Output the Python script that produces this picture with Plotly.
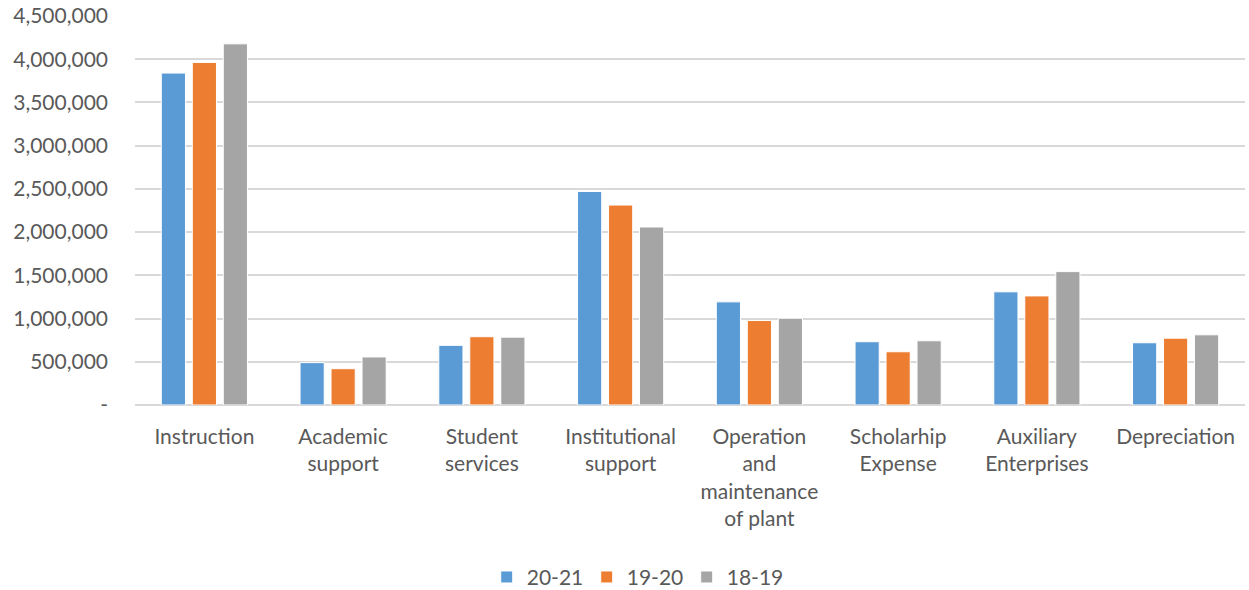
import plotly.graph_objects as go

categories = ["Instruction", "Academic<br>support", "Student<br>services", "Institutional<br>support",
              "Operation<br>and<br>maintenance<br>of plant", "Scholarhip<br>Expense",
              "Auxiliary<br>Enterprises", "Depreciation"]
series_names = ["20-21", "19-20", "18-19"]
v_20_21 = [3840000, 490000, 690000, 2470000, 1193000, 732000, 1309000, 720000]
v_19_20 = [3963000, 420000, 790000, 2313000, 977000, 616000, 1262000, 773000]
v_18_19 = [4178000, 556000, 785000, 2059000, 1004000, 743000, 1543000, 812000]
colors = ["#5B9BD5", "#ED7D31", "#A5A5A5"]
tick_vals = [0, 500000, 1000000, 1500000, 2000000, 2500000, 3000000, 3500000, 4000000, 4500000]
tick_text = ["-", "500,000", "1,000,000", "1,500,000", "2,000,000", "2,500,000",
             "3,000,000", "3,500,000", "4,000,000", "4,500,000"]

fig = go.Figure()
for name, vals, col in zip(series_names, [v_20_21, v_19_20, v_18_19], colors):
    fig.add_trace(go.Bar(x=categories, y=vals, name=name,
                         marker=dict(color=col, line=dict(color="white", width=1))))

font_family = "Lato, 'Open Sans', sans-serif"
fig.update_layout(
    width=1249, height=590,
    margin=dict(l=135, r=4, t=16, b=185, autoexpand=False),
    paper_bgcolor="white", plot_bgcolor="white",
    barmode="group", bargap=0.33, bargroupgap=0.22,
    font=dict(family=font_family, size=21, color="#595959"),
    showlegend=True,
    legend=dict(orientation="h", x=0.452, xanchor="center", y=-0.443, yanchor="middle",
                font=dict(size=21, color="#595959"), itemwidth=30, traceorder="normal",
                entrywidth=55, entrywidthmode="pixels"),
    xaxis=dict(showgrid=False, showline=False, ticks="", tickfont=dict(size=21, color="#595959"),
               tickangle=0, automargin=False, ticklabelstandoff=17),
    yaxis=dict(range=[0, 4500000], tickvals=tick_vals, ticktext=tick_text,
               showgrid=True, gridcolor="#D9D9D9", gridwidth=1.5,
               zeroline=True, zerolinecolor="#D9D9D9", zerolinewidth=1.5,
               showline=False, ticks="", ticklabelstandoff=26, automargin=False,
               tickfont=dict(size=21, color="#595959")),
)
fig.write_html("out.html", config={"displayModeBar": False},
               post_script="document.body.style.margin='0';")
